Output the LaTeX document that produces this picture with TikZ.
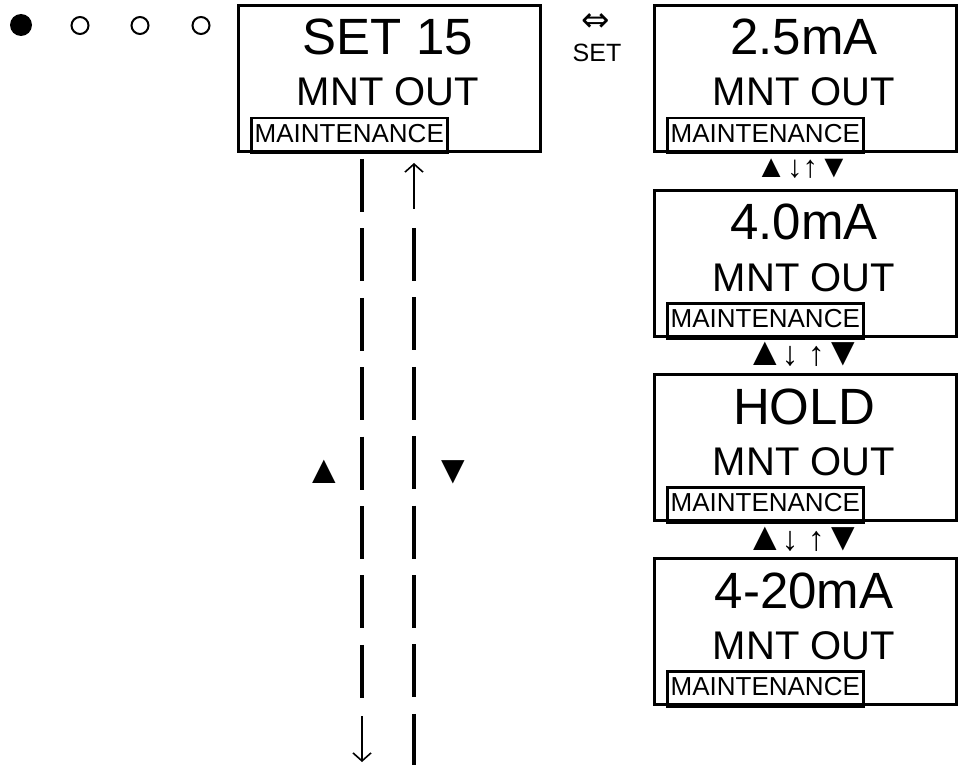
\documentclass[tikz,border=0pt]{standalone}
\usepackage{fontspec}
\setmainfont{Liberation Sans}
\newfontfamily\djv{DejaVu Sans}
\usetikzlibrary{arrows.meta}
\begin{document}
\begin{tikzpicture}[x=1pt,y=-1pt,
  screen/.style={draw, line width=3pt, minimum width=302pt, minimum height=146pt, inner sep=0pt, anchor=north west},
  big/.style={anchor=base, inner sep=0pt, font=\fontsize{51}{51}\selectfont},
  mid/.style={anchor=base, inner sep=0pt, font=\fontsize{40}{40}\selectfont},
  maint/.style={draw, line width=2.5pt, anchor=north west, minimum width=196pt, inner xsep=0pt, inner ysep=0pt, text height=24.4pt, text depth=10.6pt, font=\fontsize{26}{26}\selectfont},
  tri/.style={inner sep=0pt, font=\fontsize{40}{40}\selectfont},
  navrow/.style={inner sep=0pt, anchor=base},
  dashline/.style={line width=4pt, dash pattern=on 53pt off 16.4pt},
  thinarrow/.style={line width=1.6pt, -{Straight Barb[length=8pt,width=18pt,line width=1.6pt]}},
  dotfull/.style={circle, fill, minimum size=22pt, inner sep=0pt},
  dotopen/.style={circle, draw, line width=2pt, minimum size=17pt, inner sep=0pt},
]
\useasboundingbox (0,0) rectangle (962,765);
% indicator dots
\node[dotfull] (d1) at (21,25) {};
\node[dotopen] (d2) at (80,25.5) {};
\node[dotopen] (d3) at (140,25.5) {};
\node[dotopen] (d4) at (201,25.5) {};
% screens
\foreach \n/\x/\y/\t in {main/237/4/{SET 15}, s1/653/4/{2.5mA}, s2/653/189/{4.0mA}, s3/653/373/{HOLD}, s4/653/557/{4-20mA}} {
  \node[screen] (\n) at (\x,\y) {};
  \node[big] (\n-t) at ({\x+151},{\y+51}) {\t};
  \node[mid] (\n-m) at ({\x+151},{\y+102}) {MNT OUT};
  \node[maint] (\n-b) at ({\x+13},{\y+113}) {MAINTENANCE};
}
% SET key label
\node[inner sep=0pt, font=\djv\fontsize{34}{34}\selectfont] (dbl) at (596,22.5) {⇔};
\node[anchor=base, inner sep=0pt, font=\fontsize{25}{25}\selectfont] (setk) at (597,62) {SET};
% navigation between value screens
\node[navrow] (r1) at (802.5,177.5) {{\fontsize{32}{32}\selectfont ▲}{\fontsize{31}{31}\selectfont ↓↑}{\fontsize{32}{32}\selectfont ▼}};
\node[navrow] (r2) at (804,365) {{\fontsize{40}{40}\selectfont ▲}\kern-6pt{} {\fontsize{34}{34}\selectfont ↓ ↑} \kern-4.5pt{\fontsize{40}{40}\selectfont ▼}};
\node[navrow] (r3) at (804,550) {{\fontsize{40}{40}\selectfont ▲}\kern-6pt{} {\fontsize{34}{34}\selectfont ↓ ↑} \kern-4.5pt{\fontsize{40}{40}\selectfont ▼}};
% dashed navigation lines
\coordinate (Ltop) at (362,159);
\coordinate (Lbot) at (362,698);
\coordinate (Ldn1) at (362,716);
\coordinate (Ldn2) at (362,762);
\coordinate (Rup1) at (414,209);
\coordinate (Rup2) at (414,163);
\coordinate (Rtop) at (414,228);
\coordinate (Rbot) at (414,765);
\draw[dashline] (Ltop) -- (Lbot);
\draw[dashline] (Rtop) -- (Rbot);
\draw[thinarrow] (Ldn1) -- (Ldn2);
\draw[thinarrow] (Rup1) -- (Rup2);
\node[tri] (upL) at (324,471.5) {▲};
\node[tri] (dnR) at (453.5,472.5) {▼};
\end{tikzpicture}
\end{document}
